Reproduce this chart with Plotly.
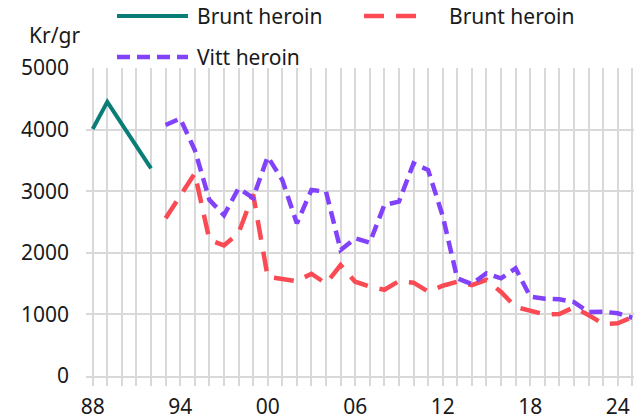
import plotly.graph_objects as go

# ---- data ----
years_old = [1988, 1989, 1990, 1991, 1992]
brunt_old = [4010, 4450, 4090, 3730, 3370]

years_new = list(range(1993, 2026))
brunt_new = [2560, 2910, 3290, 2210, 2120, 2320, 2950, 1610, 1570, 1540,
             1660, 1500, 1800, 1530, 1450, 1400, 1540, 1515, 1370, 1465,
             1530, 1475, 1560, 1365, 1120, 1055, 1000, 1005, 1115, 990,
             845, 855, 955]
vitt = [4075, 4180, 3670, 2860, 2610, 3047, 2890, 3560, 3182, 2479,
        3020, 2992, 2045, 2235, 2164, 2776, 2830, 3452, 3344, 2600,
        1586, 1493, 1667, 1586, 1748, 1288, 1255, 1245, 1201, 1039,
        1044, 1018, 946]

all_years = list(range(1988, 2026))
tick_labels = {1988: "88", 1994: "94", 2000: "00", 2006: "06", 2012: "12", 2018: "18", 2024: "24"}
y_ticks = [0, 1000, 2000, 3000, 4000, 5000]

legend_names = ["Brunt heroin", "Brunt heroin", "Vitt heroin"]
y_title = "Kr/gr"

TEAL = "#0a7d76"
RED = "#fa4b55"
PURPLE = "#8142fa"
GRID = "#d9d9d9"
FONT = "Noto Sans"
TXT = "#1a1a1a"
FS = 21

W, H = 634, 420
L, R, T, B = 86, 0, 68, 44

fig = go.Figure()
fig.add_trace(go.Scatter(x=years_old, y=brunt_old, mode="lines",
                         line=dict(color=TEAL, width=4), name=legend_names[0],
                         showlegend=False))
fig.add_trace(go.Scatter(x=years_new, y=brunt_new, mode="lines",
                         line=dict(color=RED, width=4.5, dash="20px,12px"),
                         name=legend_names[1], showlegend=False))
fig.add_trace(go.Scatter(x=years_new, y=vitt, mode="lines",
                         line=dict(color=PURPLE, width=4.5, dash="13px,7px"),
                         name=legend_names[2], showlegend=False))

pw, ph = W - L - R, H - T - B


def px(xp):
    return (xp - L) / pw


def py(yp):
    return (H - B - yp) / ph


shapes = []
annotations = []
# manual legend
leg = [
    (117, 188, 16, TEAL, "solid", 4, 195, legend_names[0]),
    (364, 421, 16, RED, "20px,12px", 4.5, 447, legend_names[1]),
    (117, 188, 57, PURPLE, "13px,7px", 4.5, 195, legend_names[2]),
]
for x0, x1, yy, col, dash, wdt, tx, name in leg:
    shapes.append(dict(type="line", xref="paper", yref="paper",
                       x0=px(x0), x1=px(x1), y0=py(yy), y1=py(yy),
                       line=dict(color=col, width=wdt, dash=dash)))
    annotations.append(dict(xref="paper", yref="paper", x=px(tx), y=py(yy),
                            xanchor="left", yanchor="middle", showarrow=False,
                            text=name, font=dict(family=FONT, size=FS, color=TXT)))

annotations.append(dict(xref="paper", yref="paper", x=px(54), y=py(35),
                        xanchor="center", yanchor="middle", showarrow=False,
                        text=y_title, font=dict(family=FONT, size=FS, color=TXT)))

fig.update_layout(
    width=W, height=H,
    margin=dict(l=L, r=R, t=T, b=B, pad=0, autoexpand=False),
    paper_bgcolor="white", plot_bgcolor="white",
    shapes=shapes, annotations=annotations,
    showlegend=False,
    font=dict(family=FONT, size=FS, color=TXT),
)
fig.update_xaxes(
    range=[1987.54, 2025.12],
    tickvals=all_years,
    ticktext=[tick_labels.get(y, "") for y in all_years],
    showgrid=True, gridcolor=GRID, gridwidth=2,
    ticks="outside", ticklen=8, tickcolor=GRID, tickwidth=2,
    showline=True, linecolor=GRID, linewidth=2,
    zeroline=False, automargin=False,
    ticklabelstandoff=3,
    tickfont=dict(family=FONT, size=FS, color=TXT),
)
fig.update_yaxes(
    range=[0, 5000],
    tickvals=y_ticks,
    showgrid=True, gridcolor=GRID, gridwidth=2,
    zeroline=False, showline=False, ticks="", automargin=False,
    ticklabelstandoff=16,
    tickfont=dict(family=FONT, size=FS, color=TXT),
)

fig.write_html("out.html",
               config={"displayModeBar": False},
               post_script="document.body.style.margin='0';document.body.style.overflow='hidden';")
